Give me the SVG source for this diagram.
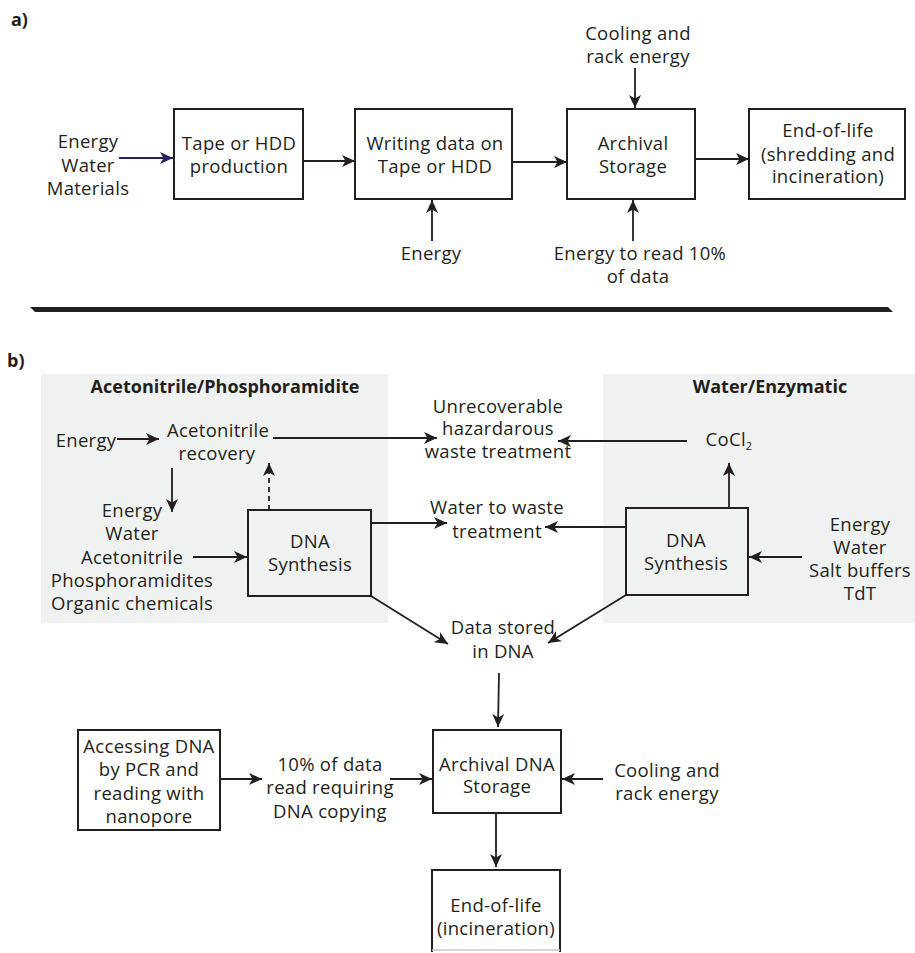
<svg xmlns="http://www.w3.org/2000/svg" width="915" height="953" viewBox="0 0 915 953">
<defs>
<style>
text{font-family:"Open Sans","Noto Sans","Liberation Sans",sans-serif;font-size:18.5px;letter-spacing:0.3px;fill:#231f20;text-anchor:middle}
.b{font-weight:bold;font-size:18px;letter-spacing:0}
.lbl{font-family:"Open Sans","Liberation Sans",Arial,sans-serif;font-weight:bold;font-size:18px;letter-spacing:0;text-anchor:start}
.box{fill:none;stroke:#231f20;stroke-width:2}
.c{fill:none;stroke:#231f20;stroke-width:1.8;marker-end:url(#ah)}
.panel{fill:#f0f1f1}
</style>
<marker id="ah" markerUnits="userSpaceOnUse" markerWidth="14" markerHeight="12" refX="13" refY="6" orient="auto">
<path d="M0,0 L13,6 L0,12 L3.5,6 z" fill="#231f20"/>
</marker>
<marker id="ahb" markerUnits="userSpaceOnUse" markerWidth="14" markerHeight="12" refX="13" refY="6" orient="auto">
<path d="M0,0 L13,6 L0,12 L3.5,6 z" fill="#262262"/>
</marker>
</defs>
<rect width="915" height="953" fill="#ffffff"/>

<text class="lbl" x="11" y="26">a)</text>
<text class="lbl" x="7" y="367">b)</text>

<polygon points="30,307 888,307 893,312 35,312" fill="#231f20"/>

<rect class="panel" x="41" y="374" width="347" height="249"/>
<rect class="panel" x="603" y="374" width="312" height="249"/>
<text class="b" x="225" y="393">Acetonitrile/Phosphoramidite</text>
<text class="b" x="770" y="393">Water/Enzymatic</text>

<g id="connectors">
<line x1="119" y1="158" x2="173" y2="158" style="fill:none;stroke:#262262;stroke-width:1.8;marker-end:url(#ahb)"/>
<line class="c" x1="303" y1="161" x2="355" y2="161"/>
<line class="c" x1="432" y1="241" x2="432" y2="200"/>
<line class="c" x1="512" y1="162" x2="567" y2="162"/>
<line class="c" x1="635" y1="68" x2="635" y2="108"/>
<line class="c" x1="633" y1="241" x2="633" y2="200"/>
<line class="c" x1="695" y1="159" x2="749" y2="159"/>

<line class="c" x1="117" y1="439" x2="159" y2="439"/>
<line class="c" x1="273" y1="438" x2="437" y2="438"/>
<line class="c" x1="687" y1="441" x2="558" y2="441"/>
<line class="c" x1="729" y1="508" x2="729" y2="463"/>
<line class="c" x1="269" y1="510" x2="269" y2="463" stroke-dasharray="5,4"/>
<line class="c" x1="172" y1="468" x2="172" y2="512"/>
<line class="c" x1="193" y1="557" x2="247" y2="557"/>
<line class="c" x1="371" y1="523" x2="447" y2="523"/>
<line class="c" x1="626" y1="527" x2="545" y2="527"/>
<line class="c" x1="802" y1="557" x2="749" y2="557"/>
<line class="c" x1="371" y1="596" x2="448" y2="644"/>
<line class="c" x1="626" y1="595" x2="548" y2="643"/>
<line class="c" x1="499" y1="673" x2="498" y2="727"/>
<line class="c" x1="603" y1="779" x2="562" y2="779"/>
<line class="c" x1="496" y1="813" x2="496" y2="867"/>
<line class="c" x1="220" y1="779" x2="262" y2="779"/>
<line class="c" x1="390" y1="779" x2="432" y2="779"/>
</g>

<g id="inputs-a">
<text x="88" y="148">Energy</text>
<text x="88" y="172">Water</text>
<text x="88" y="195">Materials</text>
</g>
<g id="tape-production">
<rect class="box" x="174" y="109" width="129" height="90"/>
<text x="239" y="150">Tape or HDD</text>
<text x="239" y="173">production</text>
</g>
<g id="writing-data">
<rect class="box" x="355" y="109" width="157" height="90"/>
<text x="435" y="150">Writing data on</text>
<text x="435" y="173">Tape or HDD</text>
</g>
<g id="energy-a">
<text x="431" y="260">Energy</text>
</g>
<g id="archival-storage">
<rect class="box" x="567" y="109" width="128" height="90"/>
<text x="633" y="150">Archival</text>
<text x="633" y="173">Storage</text>
</g>
<g id="cooling-a">
<text x="638" y="40">Cooling and</text>
<text x="638" y="63">rack energy</text>
</g>
<g id="read-energy-a">
<text x="640" y="260">Energy to read 10%</text>
<text x="638" y="283">of data</text>
</g>
<g id="end-of-life-a">
<rect class="box" x="749" y="109" width="156" height="90"/>
<text x="828" y="137">End-of-life</text>
<text x="828" y="161">(shredding and</text>
<text x="828" y="183">incineration)</text>
</g>

<g id="energy-b">
<text x="86" y="447">Energy</text>
</g>
<g id="acetonitrile-recovery">
<text x="218" y="437">Acetonitrile</text>
<text x="217" y="460">recovery</text>
</g>
<g id="hazardous-waste">
<text x="498" y="413">Unrecoverable</text>
<text x="498" y="435">hazardarous</text>
<text x="498" y="458">waste treatment</text>
</g>
<g id="cocl2">
<text x="729" y="446">CoCl<tspan font-size="11" dy="4">2</tspan></text>
</g>
<g id="inputs-chem">
<text x="132" y="517">Energy</text>
<text x="132" y="540">Water</text>
<text x="132" y="564">Acetonitrile</text>
<text x="132" y="587">Phosphoramidites</text>
<text x="132" y="610">Organic chemicals</text>
</g>
<g id="dna-synthesis-chem">
<rect class="box" x="248" y="510" width="123" height="86"/>
<text x="310" y="548">DNA</text>
<text x="310" y="571">Synthesis</text>
</g>
<g id="water-waste">
<text x="497" y="514">Water to waste</text>
<text x="497" y="538">treatment</text>
</g>
<g id="dna-synthesis-enz">
<rect class="box" x="626" y="508" width="122" height="87"/>
<text x="686" y="547">DNA</text>
<text x="686" y="570">Synthesis</text>
</g>
<g id="inputs-enz">
<text x="860" y="531">Energy</text>
<text x="860" y="554">Water</text>
<text x="860" y="577">Salt buffers</text>
<text x="860" y="600">TdT</text>
</g>
<g id="data-stored">
<text x="503" y="634">Data stored</text>
<text x="503" y="658">in DNA</text>
</g>
<g id="accessing-dna">
<rect class="box" x="78" y="730" width="142" height="100"/>
<text x="149" y="753">Accessing DNA</text>
<text x="149" y="776">by PCR and</text>
<text x="149" y="800">reading with</text>
<text x="149" y="823">nanopore</text>
</g>
<g id="read-copy">
<text x="330" y="771">10% of data</text>
<text x="330" y="794">read requiring</text>
<text x="330" y="818">DNA copying</text>
</g>
<g id="archival-dna">
<rect class="box" x="433" y="730" width="128" height="83"/>
<text x="497" y="771">Archival DNA</text>
<text x="497" y="793">Storage</text>
</g>
<g id="cooling-b">
<text x="667" y="777">Cooling and</text>
<text x="667" y="800">rack energy</text>
</g>
<g id="end-of-life-b">
<path class="box" d="M432,952 V870 H560 V952"/>
<line x1="432" y1="950" x2="560" y2="950" stroke="#c8c8c8" stroke-width="1.5"/>
<text x="496" y="912">End-of-life</text>
<text x="496" y="935">(incineration)</text>
</g>
</svg>
